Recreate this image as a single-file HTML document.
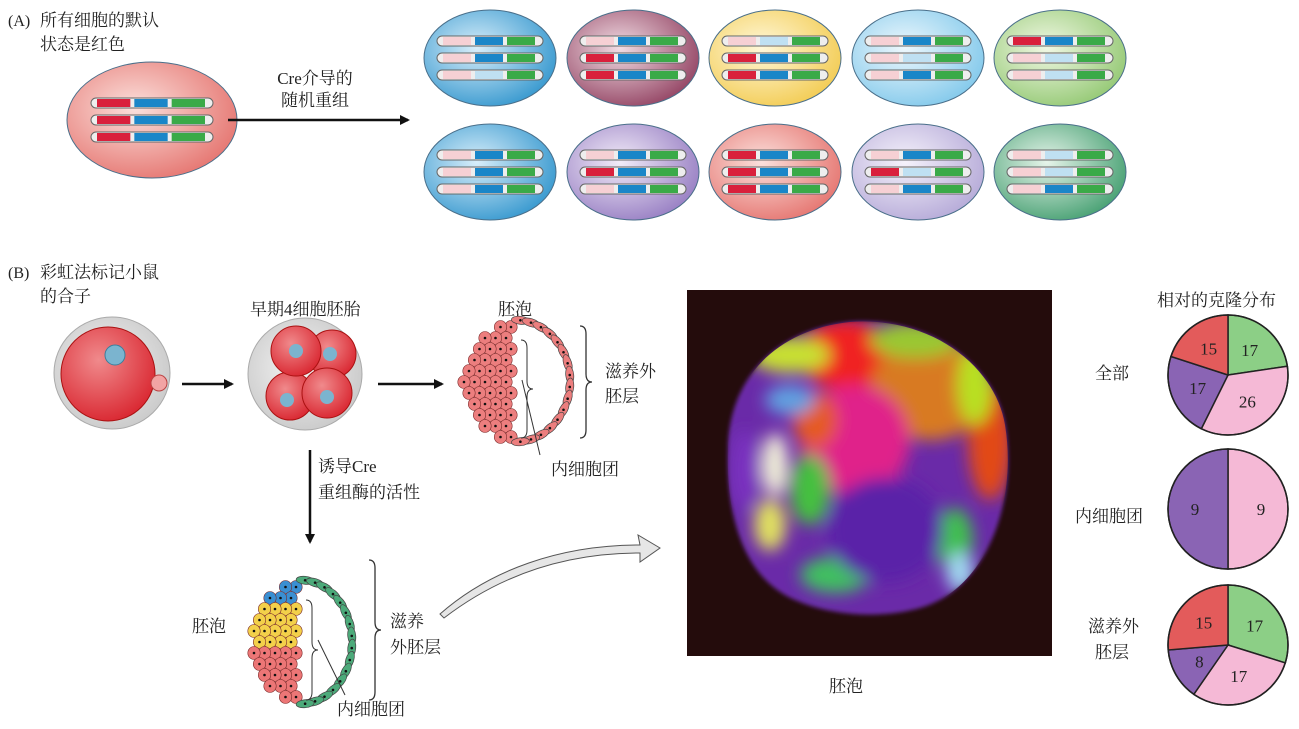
<!DOCTYPE html>
<html><head><meta charset="utf-8">
<style>
html,body{margin:0;padding:0;background:#fff;}
svg{display:block;}
text{font-family:"Liberation Serif","Noto Serif CJK SC","Noto Sans CJK SC",serif;fill:#222;}
</style></head>
<body>
<svg id="fig" width="1299" height="729" viewBox="0 0 1299 729">
<defs>
<radialGradient id="gRed" cx="0.4" cy="0.4" r="0.7"><stop offset="0" stop-color="#fbe0dc"/><stop offset="1" stop-color="#e46f6a"/></radialGradient>
<radialGradient id="gBlue" cx="0.4" cy="0.4" r="0.7"><stop offset="0" stop-color="#d8eefa"/><stop offset="1" stop-color="#2d93cc"/></radialGradient>
<radialGradient id="gMaroon" cx="0.4" cy="0.4" r="0.7"><stop offset="0" stop-color="#f1dde4"/><stop offset="1" stop-color="#8e3b5c"/></radialGradient>
<radialGradient id="gYellow" cx="0.4" cy="0.4" r="0.7"><stop offset="0" stop-color="#fff8da"/><stop offset="1" stop-color="#f2c94b"/></radialGradient>
<radialGradient id="gLBlue" cx="0.4" cy="0.4" r="0.7"><stop offset="0" stop-color="#eef8fd"/><stop offset="1" stop-color="#7cc6ea"/></radialGradient>
<radialGradient id="gLGreen" cx="0.4" cy="0.4" r="0.7"><stop offset="0" stop-color="#f1f8e4"/><stop offset="1" stop-color="#8fc66e"/></radialGradient>
<radialGradient id="gPurple" cx="0.4" cy="0.4" r="0.7"><stop offset="0" stop-color="#f2ecf8"/><stop offset="1" stop-color="#9278c0"/></radialGradient>
<radialGradient id="gLav" cx="0.4" cy="0.4" r="0.7"><stop offset="0" stop-color="#f5f2fb"/><stop offset="1" stop-color="#b2a6d6"/></radialGradient>
<radialGradient id="gGreen" cx="0.4" cy="0.4" r="0.7"><stop offset="0" stop-color="#e6f4ea"/><stop offset="1" stop-color="#3d9b6b"/></radialGradient>
<radialGradient id="gGray" cx="0.45" cy="0.45" r="0.6"><stop offset="0" stop-color="#f4f4f4"/><stop offset="1" stop-color="#c9c9c9"/></radialGradient>
<radialGradient id="gCell" cx="0.4" cy="0.35" r="0.7"><stop offset="0" stop-color="#f08a8c"/><stop offset="1" stop-color="#d9252f"/></radialGradient>
<filter id="blur6" x="-20%" y="-20%" width="140%" height="140%"><feGaussianBlur stdDeviation="8"/></filter>
<filter id="blur2"><feGaussianBlur stdDeviation="2"/></filter>
<marker id="ah" markerWidth="10" markerHeight="10" refX="8" refY="5" orient="auto" markerUnits="userSpaceOnUse"><path d="M0,0 L10,5 L0,10 Z" fill="#111"/></marker>
<clipPath id="blobClip"><path d="M728,450 C728,380 775,330 850,322 C930,316 995,365 1005,425 C1018,505 985,590 920,608 C870,622 815,612 785,595 C745,572 726,520 728,450 Z"/></clipPath>
</defs>

<!-- Panel A -->
<text x="8" y="26" font-size="16">(A)</text>
<text x="40" y="26" font-size="17">所有细胞的默认</text>
<text x="40" y="50" font-size="17">状态是红色</text>
<g id="cellsA"></g>
<line x1="228" y1="120" x2="408" y2="120" stroke="#111" stroke-width="2.5" marker-end="url(#ah)"/>
<text x="315" y="84" font-size="17" text-anchor="middle">Cre介导的</text>
<text x="315" y="106" font-size="17" text-anchor="middle">随机重组</text>

<!-- Panel B -->
<text x="8" y="278" font-size="16">(B)</text>
<text x="40" y="278" font-size="17">彩虹法标记小鼠</text>
<text x="40" y="302" font-size="17">的合子</text>
<g>
<ellipse cx="112" cy="373" rx="58" ry="56" fill="url(#gGray)" stroke="#aaa"/>
<circle cx="108" cy="374" r="47" fill="url(#gCell)" stroke="#a11"/>
<circle cx="115" cy="355" r="10" fill="#7bb4cf" stroke="#3c7e9c"/>
<circle cx="159" cy="383" r="8" fill="#f2a4a4" stroke="#b44"/>
</g>
<line x1="182" y1="384" x2="232" y2="384" stroke="#111" stroke-width="2.5" marker-end="url(#ah)"/>
<text x="250" y="315" font-size="17">早期4细胞胚胎</text>
<g>
<ellipse cx="305" cy="374" rx="57" ry="56" fill="url(#gGray)" stroke="#aaa"/>
<circle cx="332" cy="354" r="24" fill="url(#gCell)" stroke="#a11"/>
<circle cx="290" cy="396" r="24" fill="url(#gCell)" stroke="#a11"/>
<circle cx="296" cy="351" r="25" fill="url(#gCell)" stroke="#a11"/>
<circle cx="327" cy="393" r="25" fill="url(#gCell)" stroke="#a11"/>
<circle cx="296" cy="351" r="7" fill="#7bb4cf"/><circle cx="330" cy="354" r="7" fill="#7bb4cf"/>
<circle cx="287" cy="400" r="7" fill="#7bb4cf"/><circle cx="327" cy="397" r="7" fill="#7bb4cf"/>
</g>
<line x1="378" y1="384" x2="442" y2="384" stroke="#111" stroke-width="2.5" marker-end="url(#ah)"/>
<text x="498" y="315" font-size="17">胚泡</text>
<g id="blastTop"></g>
<path d="M580,326 q6,0 6,8 v40 q0,8 6,8 q-6,0 -6,8 v40 q0,8 -6,8" fill="none" stroke="#333" stroke-width="1.3"/>
<text x="605" y="377" font-size="17">滋养外</text>
<text x="605" y="402" font-size="17">胚层</text>
<line x1="522" y1="380" x2="540" y2="455" stroke="#333" stroke-width="1"/>
<text x="551" y="475" font-size="17">内细胞团</text>

<line x1="310" y1="450" x2="310" y2="542" stroke="#111" stroke-width="2.5" marker-end="url(#ah)"/>
<text x="318" y="472" font-size="17">诱导Cre</text>
<text x="318" y="498" font-size="17">重组酶的活性</text>

<text x="192" y="632" font-size="17">胚泡</text>
<g id="blastBot"></g>
<path d="M369,560 q6,0 6,8 v54 q0,8 6,8 q-6,0 -6,8 v54 q0,8 -6,8" fill="none" stroke="#333" stroke-width="1.3"/>
<text x="390" y="627" font-size="17">滋养</text>
<text x="390" y="653" font-size="17">外胚层</text>
<line x1="318" y1="640" x2="345" y2="695" stroke="#333" stroke-width="1"/>
<text x="337" y="715" font-size="17">内细胞团</text>

<path d="M440,614 C490,570 560,545 640,545 L638,535 L660,548 L640,562 L640,553 C565,553 500,575 444,618 Z" fill="#e6e6e6" stroke="#555" stroke-width="1"/>

<!-- Photo -->
<g>
<rect x="687" y="290" width="365" height="366" fill="#240c0c"/>
<g filter="url(#blur2)">
<path d="M728,450 C728,380 775,330 850,322 C930,316 995,365 1005,425 C1018,505 985,590 920,608 C870,622 815,612 785,595 C745,572 726,520 728,450 Z" fill="#6a2aa8"/>
</g>
<g clip-path="url(#blobClip)">
<g filter="url(#blur6)">
<ellipse cx="845" cy="355" rx="45" ry="35" fill="#f02020"/>
<ellipse cx="930" cy="390" rx="60" ry="50" fill="#d87a20"/>
<ellipse cx="990" cy="440" rx="22" ry="60" fill="#e24a18"/>
<ellipse cx="975" cy="385" rx="18" ry="40" fill="#b8e020"/>
<ellipse cx="915" cy="340" rx="45" ry="18" fill="#9ac830"/>
<ellipse cx="855" cy="440" rx="55" ry="55" fill="#e0208a"/>
<ellipse cx="815" cy="420" rx="22" ry="28" fill="#e55a22"/>
<ellipse cx="790" cy="355" rx="40" ry="18" fill="#c8e030"/>
<ellipse cx="790" cy="400" rx="25" ry="15" fill="#60a0e0"/>
<ellipse cx="810" cy="490" rx="20" ry="35" fill="#44c040"/>
<ellipse cx="775" cy="465" rx="13" ry="32" fill="#f0f0d8"/>
<ellipse cx="770" cy="525" rx="16" ry="26" fill="#e0e060"/>
<ellipse cx="835" cy="575" rx="35" ry="18" fill="#40c060"/>
<ellipse cx="955" cy="540" rx="18" ry="32" fill="#40c050"/>
<ellipse cx="960" cy="572" rx="14" ry="20" fill="#a0d8f0"/>
<ellipse cx="885" cy="530" rx="58" ry="52" fill="#5a22a8"/>
<ellipse cx="745" cy="470" rx="14" ry="40" fill="#7a30c0"/>
</g></g>
</g>
<text x="846" y="692" font-size="17" text-anchor="middle">胚泡</text>

<!-- Pies -->
<text x="1157" y="306" font-size="17">相对的克隆分布</text>
<text x="1095" y="379" font-size="17">全部</text>
<text x="1075" y="522" font-size="17">内细胞团</text>
<text x="1088" y="632" font-size="17">滋养外</text>
<text x="1095" y="658" font-size="17">胚层</text>
<g id="pies"></g>
</svg>
<script>
// Pie chart data (clockwise from 12 o'clock: green, pink, purple, red)
const pieGroups = ["all", "icm", "te"];
const greenVals = [17, 0, 17];
const pinkVals = [26, 9, 17];
const purpleVals = [17, 9, 8];
const redVals = [15, 0, 15];
const sliceColors = ["#8ccf86", "#f5b9d6", "#8a64b4", "#e35b5b"];
const labelColors = ["#222", "#222", "#fff", "#222"];

const NS = "http://www.w3.org/2000/svg";
function mk(tag, attrs, parent){const e=document.createElementNS(NS,tag);for(const k in attrs)e.setAttribute(k,attrs[k]);parent.appendChild(e);return e;}

// Panel A cells
const cellA = document.getElementById("cellsA");
const cellSpecs = [
 [152,120,85,58,"gRed",["R","R","R"]],
 [490,58,66,48,"gBlue",["p","p","p"],["B","B","b"]],
 [633,58,66,48,"gMaroon",["p","R","R"]],
 [775,58,66,48,"gYellow",["p","R","R"],["b","B","B"]],
 [918,58,66,48,"gLBlue",["p","p","p"],["B","b","B"]],
 [1060,58,66,48,"gLGreen",["R","p","p"],["B","b","b"]],
 [490,172,66,48,"gBlue",["p","p","p"]],
 [633,172,66,48,"gPurple",["p","R","p"]],
 [775,172,66,48,"gRed",["R","R","R"]],
 [918,172,66,48,"gLav",["p","R","p"],["B","b","B"]],
 [1060,172,66,48,"gGreen",["p","p","p"],["b","b","B"]]
];
cellSpecs.forEach((c,i)=>{
 const g=mk("g",{},cellA);
 
 
 mk("ellipse",{cx:c[0],cy:c[1],rx:c[2],ry:c[3],fill:"url(#"+c[4]+")",stroke:"#4a6f8a","stroke-width":1},g);
 const w=c[2]>70?122:106, x0=c[0]-w/2;
 for(let r=0;r<3;r++){
  const y=c[1]+(r-1)*17;
  mk("rect",{x:x0,y:y-5,width:w,height:10,rx:5,fill:"#eee",stroke:"#666","stroke-width":1},g);
  const seg=(w-16)/3;
  const rc=c[5][r]==="R"?"#d9203c":"#f6d0d4";
  const bc=(c[6]?c[6][r]:"B")==="B"?"#1a86c8":"#bfe0f2";
  mk("rect",{x:x0+6,y:y-4,width:seg-2,height:8,fill:rc},g);
  mk("rect",{x:x0+8+seg,y:y-4,width:seg-2,height:8,fill:bc},g);
  mk("rect",{x:x0+10+2*seg,y:y-4,width:seg-2,height:8,fill:"#3aaa48"},g);
 }
});

// Blastocyst drawings
function blast(gid,cx,cy,rx,ry,colorFn,tcol){
 const g=document.getElementById(gid);
 // ICM cells (left half)
 let row=0;
 for(let yy=cy-ry+7; yy<=cy+ry-5; yy+=11, row++){
  const half=rx*Math.sqrt(Math.max(0,1-((yy-cy)/ry)**2));
  const off=(row%2)*5;
  for(let xx=cx-4-off; xx>=cx-half+3; xx-=10.5){
   mk("ellipse",{cx:xx,cy:yy,rx:6.2,ry:6.5,fill:colorFn(xx,yy),stroke:"#7a2a2a","stroke-width":0.6},g);
   mk("circle",{cx:xx,cy:yy,r:1.3,fill:"#111"},g);
  }
 }
 // trophectoderm ring (right half)
 const n=16;
 for(let k=0;k<n;k++){
  const a=-Math.PI/2+Math.PI*(k+0.5)/n;
  const x=cx+rx*Math.cos(a), y=cy+ry*Math.sin(a);
  mk("ellipse",{cx:x,cy:y,rx:4,ry:9,fill:tcol,stroke:"#444","stroke-width":0.7,transform:`rotate(${a*180/Math.PI} ${x} ${y})`},g);
  mk("circle",{cx:x,cy:y,r:1.3,fill:"#111"},g);
 }
 mk("path",{d:`M${cx+6},${cy-ry+20} q6,0 6,8 v${ry-28} q0,8 6,8 q-6,0 -6,8 v${ry-28} q0,8 -6,8`,fill:"none",stroke:"#333","stroke-width":1},g);
}
blast("blastTop",515,381,55,61,()=>"#ec7e7e","#ec7e7e");
blast("blastBot",300,642,52,62,(x,y)=> y<604?"#3a8fd2":(y<648?"#f3d04a":"#ec7676"),"#4caa7a");

// Pies
const pieG=document.getElementById("pies");
const centers=[[1228,375],[1228,509],[1228,645]];
pieGroups.forEach((name,i)=>{
 const vals=[greenVals[i],pinkVals[i],purpleVals[i],redVals[i]];
 const tot=vals.reduce((a,b)=>a+b,0);
 const [cx,cy]=centers[i], r=60;
 let a0=0;
 vals.forEach((v,j)=>{
  if(v<=0) return;
  const a1=a0+v/tot*2*Math.PI;
  const x0=cx+r*Math.sin(a0), y0=cy-r*Math.cos(a0), x1=cx+r*Math.sin(a1), y1=cy-r*Math.cos(a1);
  const large=(a1-a0)>Math.PI?1:0;
  const p=mk("path",{d:`M${cx},${cy} L${x0},${y0} A${r},${r} 0 ${large} 1 ${x1},${y1} Z`,fill:sliceColors[j],stroke:"#222","stroke-width":1.5},pieG);
  
  
  const am=(a0+a1)/2, lr=r*0.55;
  const t=mk("text",{x:cx+lr*Math.sin(am),y:cy-lr*Math.cos(am)+6,"font-size":17,"text-anchor":"middle",fill:labelColors[j]},pieG);
  t.textContent=v;
  
  
  a0=a1;
 });
 const c=mk("circle",{cx:cx,cy:cy,r:r,fill:"none",stroke:"#222","stroke-width":1.5},pieG);
 
 
});
</script>
</body></html>
